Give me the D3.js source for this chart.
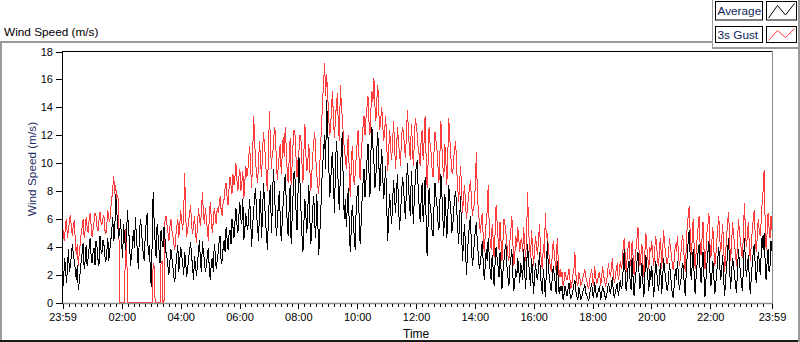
<!DOCTYPE html>
<html><head><meta charset="utf-8">
<script src="https://cdnjs.cloudflare.com/ajax/libs/d3/7.8.5/d3.min.js"></script>
<style>
body{margin:0;background:#fff;}
svg{display:block;font-family:"Liberation Sans",Arial,sans-serif;}
</style>
</head><body>
<svg id="chart" width="800" height="342"></svg>
<script>
const chartTitle = "Wind Speed (m/s)";
const yAxisTitle = "Wind Speed (m/s)";
const xAxisTitle = "Time";
const seriesNames = ["Average", "3s Gust"];
const seriesColors = ["#000000", "#ff3c3c"];
const yTicks = [0, 2, 4, 6, 8, 10, 12, 14, 16, 18];
// time axis in minutes after 00:00; the axis runs from 23:59 to its end label "23:59"
const xRange = [-1, 1446];
const xTickMinutes = [-1, 120, 240, 360, 480, 600, 720, 840, 960, 1080, 1200, 1320, 1446];
const xTickLabels = ["23:59", "02:00", "04:00", "06:00", "08:00", "10:00", "12:00", "14:00", "16:00", "18:00", "20:00", "22:00", "23:59"];

const average = [
2.0, 1.2, 3.2, 2.6, 1.4, 2.4, 3.8, 2.2, 2.6, 3.4, 4.2, 3.4, 3.0, 2.4, 1.6, 2.7, 0.9, 1.5, 2.2, 3.0,
3.6, 4.3, 2.4, 3.0, 4.1, 2.6, 3.2, 3.9, 4.6, 3.4, 2.8, 3.6, 3.9, 2.7, 4.4, 4.0, 3.1, 2.6, 4.8, 3.8, 3.5, 4.5, 4.2, 3.3, 2.9, 3.7, 4.6, 3.0, 3.8, 4.4,
5.2, 6.1, 4.4, 5.0, 7.8, 6.6, 5.6, 4.6,
5.0, 6.0, 4.2, 3.2, 5.6, 4.6, 3.8, 5.0, 6.6, 5.2, 4.4, 2.6, 3.4, 4.2, 5.2, 3.9, 6.1, 4.7, 3.6, 2.4, 4.8, 6.0, 5.5, 4.2, 3.5, 3.0, 4.9, 5.8, 6.4, 3.4, 4.1, 2.6, 1.1, 4.4, 7.9, 5.8, 4.3, 3.2, 5.6, 4.8, 3.7, 2.8, 5.2, 4.4, 4.0, 5.4, 4.6, 3.6,
3.2, 2.6, 2.0, 3.0, 3.8, 3.2, 2.6, 1.8, 1.5, 2.6, 3.4, 4.1, 2.2, 3.0, 4.0, 3.3, 2.8, 2.0, 3.6, 2.9, 1.8, 2.4, 3.1, 3.8, 4.3, 3.4, 2.5, 1.6, 3.3, 2.6, 1.9, 2.8, 3.7, 4.5, 2.9, 2.2, 4.4, 3.6, 3.0, 2.2,
2.6, 3.4, 3.9, 2.4, 1.6, 2.8, 3.2, 2.2, 4.2, 3.5, 2.4, 3.0, 3.6, 4.4, 4.8, 2.8, 3.0, 3.9, 4.5, 3.6, 5.4, 4.6, 3.8, 4.9, 5.2, 4.2, 6.0, 5.4, 4.6, 5.8, 6.8, 5.6, 5.0, 6.2, 7.2, 6.0, 5.6, 7.4, 4.5, 5.2, 6.4, 5.6,
5.2, 6.4, 7.4, 5.8, 4.0, 5.6, 6.6, 7.6, 8.2, 6.2, 5.4, 4.4, 7.0, 8.0, 4.6, 6.4, 8.6, 7.2, 6.0, 4.8, 3.8, 6.2, 7.6, 8.4, 5.0, 7.0, 9.6, 8.2, 6.4, 4.8, 5.6, 7.0, 8.0, 6.0, 4.4, 5.8, 7.2, 8.2, 9.2, 7.4, 5.8, 4.8, 6.8, 8.4, 4.2, 6.0, 7.8, 9.4, 8.8, 6.6, 5.2, 7.8, 10.4, 8.6, 6.6, 4.8,
3.6, 5.8, 7.4, 6.2, 5.0, 6.8, 8.4, 6.0, 4.2, 5.4, 6.8, 7.6, 5.6, 4.6, 7.8, 6.0, 3.4, 4.8,
6.2, 8.4, 9.8, 11.0, 12.0, 9.6, 14.5, 12.8, 10.6, 7.6, 8.2, 10.2,
10.8, 8.6, 6.4, 9.8, 11.6, 10.4, 7.8, 6.6, 9.4, 11.0, 12.2, 8.0, 6.0, 7.4,
5.4, 6.8, 8.2, 5.6, 3.6, 5.2, 7.0, 6.0, 4.8, 3.8, 6.6, 7.8, 8.4, 6.2, 4.2, 5.6, 7.4, 8.6, 9.6, 7.6,
8.8, 10.2, 11.4, 9.4, 7.6, 10.8, 12.6, 11.2, 10.2, 8.2, 9.0, 11.0, 12.2, 10.0, 8.0, 9.6, 11.0, 9.0, 7.4, 8.6, 9.8, 7.0,
4.4, 6.2, 7.8, 6.6, 5.6, 7.2, 8.8, 7.4, 6.4, 8.0, 9.2, 7.0, 5.2, 6.4, 7.6, 9.0,
8.4, 7.0, 6.0, 8.2, 10.0, 8.6, 7.2, 6.2, 9.4, 8.0, 5.6, 7.4, 8.8, 9.8, 10.2, 8.0, 6.8, 5.8,
7.4, 8.6, 5.8, 7.2, 9.0, 6.0, 3.3, 5.6, 8.2, 7.0, 6.4, 5.2, 4.8, 6.8, 8.6, 7.6, 7.0, 5.8, 5.2, 7.2, 9.2, 7.8, 6.0, 4.8, 7.8, 6.6, 4.6, 6.2, 8.4, 7.4, 6.8, 5.0, 5.4, 6.6, 7.6, 8.0,
6.8, 5.4, 4.2, 6.0, 7.6, 5.0, 3.0, 4.6, 5.6, 3.8, 2.0, 3.6, 4.8, 5.6, 6.2, 4.0, 2.6, 3.4, 4.4, 5.2, 5.8, 4.2, 3.4, 2.4,
2.8, 3.6, 4.4, 2.8, 1.6, 2.6, 3.8, 3.0, 4.6, 3.4, 2.2, 1.6, 3.4, 2.4, 1.2, 2.8, 4.0, 3.2, 2.6, 1.8, 3.6, 2.4, 1.0, 2.2, 3.0, 3.8, 4.2, 2.6, 1.8, 1.2, 2.6, 3.2, 3.8, 2.0, 0.8, 1.6, 2.4, 1.8, 3.2, 2.4, 1.4, 2.8,
2.4, 1.6, 3.8, 2.2, 1.0, 2.6, 4.2, 3.0, 2.0, 1.2, 3.2, 2.2, 0.6, 1.8, 2.8, 2.0, 1.6, 2.4, 3.6, 2.0, 1.2, 0.6, 2.4, 1.4, 0.4, 2.2, 4.4, 2.6, 1.8, 1.2, 0.8, 1.8, 2.6, 2.0, 1.4, 0.6, 3.0, 1.8, 0.6, 1.2,
0.8, 1.2, 0.2, 0.6, 1.2, 0.8, 0.5, 1.0, 1.4, 0.6, 0.3, 0.5, 0.9, 1.3, 1.6, 0.8, 0.4, 0.2, 1.1, 0.7, 0.2, 0.4, 0.8, 1.0, 1.3, 0.7, 0.5, 0.3, 0.1, 0.6, 1.0, 1.4, 0.6, 0.3, 1.5, 0.9, 0.3, 0.6, 0.9, 1.2, 0.2, 0.5, 1.2, 0.9, 0.7, 0.2, 0.4, 0.9, 1.4, 1.0, 0.6, 1.2, 1.8, 0.8, 0.3, 0.7, 1.1, 1.4, 0.5, 0.9, 1.6, 1.0,
1.2, 2.4, 3.8, 2.0, 0.8, 1.6, 2.6, 3.0, 1.6, 0.9, 3.2, 1.8, 0.5, 1.4, 2.2, 3.0, 3.6, 2.2, 1.0, 1.8, 2.8, 1.4, 0.4, 2.0, 3.4, 2.6, 1.8, 0.8, 2.4, 1.6,
2.6, 1.4, 0.4, 1.8, 3.0, 2.2, 1.4, 0.8, 2.2, 2.8, 0.6, 1.6, 3.2, 2.4, 1.8, 1.0, 0.8, 1.8, 2.8, 2.0, 1.2, 0.5, 0.3, 1.6, 2.4, 1.6, 3.0, 2.0, 0.9, 1.4, 1.8, 2.8, 2.6, 1.2, 0.5, 2.2, 3.4, 4.4, 5.2, 3.2, 1.6, 2.6, 3.8, 2.0, 0.6, 1.8, 2.8, 3.6, 4.2, 2.4,
1.4, 2.6, 3.6, 1.8, 0.4, 1.6, 2.8, 3.6, 4.4, 2.2, 1.2, 2.0, 3.0, 1.8, 0.6, 1.4, 2.2, 3.2, 4.0, 2.6, 1.6, 2.4, 3.4, 1.6, 0.5, 1.8, 2.6, 3.8, 4.6, 2.4, 1.0, 2.2, 3.2, 2.6, 2.0, 1.2, 0.7, 2.4, 3.8, 2.8,
2.2, 1.4, 0.8, 2.6, 4.6, 3.0, 1.8, 2.6, 3.4, 1.6, 0.6, 1.8, 2.8, 3.6, 4.2, 2.6, 1.4, 2.4, 3.6, 3.0, 2.0, 3.4, 4.8, 3.8, 5.0, 3.0, 1.6, 2.8, 3.8, 2.2, 2.6, 4.4, 3.7
];

const gust = [
5.6, 4.8, 4.4, 5.6, 6.0, 4.6, 5.2, 5.8, 6.3, 5.4, 4.8, 5.6, 5.9, 4.4, 3.4, 4.2, 2.6, 3.6, 4.2, 5.0,
5.4, 6.0, 4.6, 5.2, 6.1, 5.4, 5.0, 5.9, 6.4, 5.6, 4.7, 5.2, 5.8, 6.4, 6.2, 5.4, 5.1, 5.9, 6.5, 5.8, 5.6, 6.0, 6.3, 5.2, 4.9, 5.6, 6.6, 6.0, 5.8, 6.8,
7.4, 8.2, 9.1, 7.8, 8.4, 7.4, 7.7, 7.0,
0, 0, 0, 0, 0, 0, 5.3, 4.8, 0, 0, 0, 0, 0, 0, 0, 0, 0, 0, 0, 0, 0, 0, 0, 0, 0, 0, 0, 0, 0, 0, 0, 0, 0, 0, 2.8, 2.6, 0, 0, 0, 0, 0, 0, 2.8, 3.0, 0, 0, 5.8, 6.2,
5.6, 5.0, 4.4, 5.4, 6.0, 5.2, 4.8, 4.2, 3.8, 4.8, 5.4, 6.0, 4.6, 5.6, 6.6, 5.8, 5.2, 6.4, 9.3, 6.2, 4.7, 5.2, 5.8, 6.4, 7.0, 5.6, 4.9, 5.6, 6.2, 5.0, 4.3, 5.6, 6.8, 6.0, 5.5, 6.6, 7.9, 6.4, 5.6, 6.8,
6.0, 5.2, 4.4, 6.2, 7.2, 6.0, 5.0, 5.8, 6.8, 6.2, 5.6, 6.8, 6.4, 7.0, 7.6, 6.6, 6.2, 7.2, 7.4, 8.2, 8.6, 7.6, 7.0, 8.2, 9.0, 8.4, 7.8, 9.2, 8.4, 9.0, 10.0, 8.8, 8.0, 9.0, 9.6, 8.0, 8.6, 9.4, 7.4, 8.6, 9.8, 9.0,
9.4, 10.4, 11.2, 9.6, 8.2, 10.6, 13.4, 11.6, 10.0, 9.2, 8.6, 10.2, 11.6, 10.0, 9.0, 10.8, 12.2, 11.2, 10.4, 8.8, 8.0, 10.6, 13.7, 11.4, 9.6, 10.8, 11.0, 12.6, 12.2, 10.2, 8.8, 9.8, 10.6, 11.4, 9.2, 10.6, 11.9, 10.4, 12.6, 11.2, 9.4, 8.6, 10.2, 11.8, 8.4, 9.8, 11.4, 12.4, 12.0, 10.4, 9.0, 10.2, 10.9, 12.0, 11.6, 10.0,
8.6, 10.8, 12.8, 10.6, 9.4, 10.2, 11.4, 9.6, 8.0, 9.2, 10.6, 11.6, 12.2, 10.4, 9.2, 8.4, 7.8, 9.6,
11.4, 12.8, 14.6, 15.8, 17.2, 14.8, 16.4, 15.0, 13.6, 12.0, 12.4, 14.0,
15.2, 13.0, 11.8, 13.2, 14.2, 15.0, 12.4, 11.6, 15.6, 14.2, 13.2, 12.0, 11.0, 10.4,
9.6, 10.8, 12.0, 9.4, 7.6, 9.6, 11.2, 10.0, 8.4, 9.2, 10.4, 11.4, 12.4, 10.2, 8.8, 10.4, 11.6, 12.6, 13.4, 12.0,
13.2, 14.0, 14.8, 13.0, 12.0, 13.8, 15.2, 14.4, 16.1, 14.2, 13.0, 14.6, 15.6, 13.6, 12.4, 13.2, 14.0, 12.6, 11.6, 12.4, 13.4, 11.4,
9.4, 10.8, 12.4, 11.0, 10.2, 11.6, 13.0, 11.2, 9.6, 11.0, 12.6, 11.4, 10.8, 9.8, 11.8, 12.6,
12.2, 11.2, 10.4, 12.0, 13.8, 12.4, 11.0, 10.2, 12.8, 11.6, 9.8, 11.4, 13.2, 12.8, 12.0, 11.0, 10.6, 9.8,
11.8, 12.4, 10.2, 11.6, 13.4, 10.4, 8.2, 10.0, 12.6, 11.4, 10.8, 9.6, 9.0, 10.8, 12.2, 11.6, 11.0, 9.8, 8.6, 10.6, 13.0, 11.2, 9.8, 9.0, 11.4, 10.2, 8.4, 10.6, 13.2, 11.8, 10.6, 9.4, 9.2, 10.4, 11.0, 11.6,
9.6, 8.4, 7.2, 8.6, 9.8, 8.0, 6.4, 7.6, 8.4, 7.0, 6.0, 6.8, 7.6, 8.2, 8.8, 7.4, 6.2, 6.8, 7.0, 8.6, 10.8, 7.8, 6.6, 5.8,
5.0, 5.8, 6.4, 4.6, 3.6, 4.8, 5.8, 6.6, 8.4, 5.6, 4.4, 3.8, 5.6, 4.6, 3.2, 5.0, 7.0, 5.8, 4.6, 3.8, 5.8, 4.4, 3.0, 4.4, 6.0, 5.6, 5.0, 4.2, 3.4, 3.0, 4.4, 5.2, 6.2, 4.4, 2.6, 3.4, 4.8, 4.0, 5.4, 4.6, 3.6, 4.4,
4.6, 3.6, 5.4, 4.2, 3.0, 5.0, 7.9, 5.2, 4.0, 3.2, 5.2, 4.0, 2.6, 3.6, 4.8, 4.0, 3.4, 4.4, 5.6, 4.0, 2.8, 2.4, 4.2, 3.2, 6.4, 4.6, 5.0, 4.0, 3.2, 2.6, 2.2, 3.4, 4.4, 3.6, 2.8, 2.2, 4.6, 3.2, 1.8, 2.4,
1.8, 2.2, 1.2, 1.6, 2.2, 1.8, 1.6, 2.0, 2.4, 1.6, 1.0, 1.4, 2.0, 2.4, 3.6, 2.0, 1.4, 1.2, 2.2, 1.8, 1.2, 1.4, 1.8, 2.0, 2.4, 1.8, 1.6, 1.2, 1.0, 1.6, 2.0, 2.4, 1.5, 1.2, 2.6, 2.0, 1.3, 1.6, 2.0, 2.2, 1.2, 1.6, 2.6, 2.0, 1.6, 1.2, 1.4, 2.0, 2.8, 2.2, 1.8, 2.4, 3.2, 2.0, 1.4, 1.8, 2.4, 2.8, 1.6, 2.0, 3.0, 2.4,
2.8, 4.0, 4.6, 3.4, 2.2, 3.2, 4.0, 4.4, 3.0, 2.6, 4.4, 3.4, 2.0, 3.0, 3.8, 4.6, 5.4, 3.8, 2.6, 3.4, 4.2, 2.8, 1.8, 3.6, 5.0, 4.0, 3.2, 2.4, 4.0, 3.6,
4.4, 3.4, 2.6, 3.8, 4.8, 4.0, 3.0, 2.6, 4.2, 4.6, 2.4, 3.6, 5.2, 4.2, 3.6, 2.8, 2.8, 3.6, 4.6, 3.8, 3.4, 2.6, 2.3, 3.4, 4.2, 3.6, 4.8, 3.6, 2.6, 3.2, 3.8, 4.8, 4.4, 3.0, 2.2, 4.0, 5.6, 6.2, 6.9, 5.0, 3.4, 4.4, 6.0, 4.0, 2.4, 3.6, 4.6, 5.4, 6.2, 4.2,
3.4, 4.6, 5.8, 3.8, 2.4, 3.6, 5.0, 5.6, 6.4, 4.2, 3.2, 4.4, 5.4, 3.8, 2.6, 3.4, 4.4, 5.4, 6.2, 4.6, 3.6, 4.6, 5.6, 3.8, 2.2, 3.6, 4.8, 5.8, 6.5, 4.4, 3.0, 4.2, 5.8, 4.8, 4.2, 3.4, 2.6, 4.4, 6.0, 5.0,
4.4, 3.6, 3.2, 5.0, 7.1, 5.2, 4.0, 4.8, 5.8, 4.0, 3.0, 4.2, 5.2, 6.0, 6.6, 4.8, 3.6, 4.6, 6.0, 5.2, 4.8, 5.8, 7.2, 8.0, 9.5, 6.0, 3.8, 5.0, 6.4, 5.4, 4.6, 6.2, 5.2
];

const svg = d3.select("#chart");
const W = 800, H = 342;
const plot = {left: 62, right: 772, top: 51, bottom: 303};

const x = d3.scaleLinear().domain(xRange).range([plot.left + 0.5, plot.right]);
const y = d3.scaleLinear().domain([0, 18]).range([plot.bottom - 0.5, plot.top + 0.5]);

svg.append("rect").attr("width", W).attr("height", H).attr("fill", "#fff");

// outer frame
const frameGray = "#9b9b9b";
svg.append("rect").attr("x", 0).attr("y", 41).attr("width", 712).attr("height", 2).attr("fill", frameGray);
svg.append("rect").attr("x", 0).attr("y", 41).attr("width", 2).attr("height", 301).attr("fill", frameGray);
svg.append("rect").attr("x", 0).attr("y", 340).attr("width", 800).attr("height", 2).attr("fill", "#1a1a1a");
svg.append("rect").attr("x", 798).attr("y", 0).attr("width", 2).attr("height", 342).attr("fill", frameGray);
// legend panel border
svg.append("rect").attr("x", 712).attr("y", 0).attr("width", 1).attr("height", 49).attr("fill", frameGray);
svg.append("rect").attr("x", 712).attr("y", 47).attr("width", 88).attr("height", 2).attr("fill", frameGray);

// title
svg.append("text").attr("x", 4).attr("y", 35.5).attr("font-size", 11.8).attr("fill", "#000").text(chartTitle);

// plot clip
svg.append("defs").append("clipPath").attr("id", "clip")
  .append("rect").attr("x", plot.left).attr("y", plot.top).attr("width", plot.right - plot.left + 1).attr("height", plot.bottom - plot.top + 1);

const n = average.length;
const times = d3.range(n).map(i => xRange[0] + i * (xRange[1] - xRange[0]) / (n - 1));
const line = d3.line().x((d, i) => x(times[i])).y(d => y(d));

const g = svg.append("g").attr("clip-path", "url(#clip)");
g.append("path").datum(gust).attr("d", line).attr("fill", "none")
  .attr("stroke", seriesColors[1]).attr("stroke-width", 1).attr("shape-rendering", "crispEdges");
g.append("path").datum(average).attr("d", line).attr("fill", "none")
  .attr("stroke", seriesColors[0]).attr("stroke-width", 1).attr("shape-rendering", "crispEdges");

// plot frame
svg.append("line").attr("x1", plot.left).attr("x2", plot.right + 1).attr("y1", plot.top + 0.5).attr("y2", plot.top + 0.5).attr("stroke", "#000");
svg.append("line").attr("x1", plot.right + 0.5).attr("x2", plot.right + 0.5).attr("y1", plot.top).attr("y2", plot.bottom + 1).attr("stroke", "#8c8c8c");
svg.append("line").attr("x1", plot.left).attr("x2", plot.right + 1).attr("y1", plot.bottom + 0.5).attr("y2", plot.bottom + 0.5).attr("stroke", "#8c8c8c").attr("stroke-width", 1.5);
svg.append("line").attr("x1", plot.left + 0.5).attr("x2", plot.left + 0.5).attr("y1", plot.top).attr("y2", plot.bottom + 1).attr("stroke", "#000");

// y axis
const yAxis = d3.axisLeft(y).tickValues(yTicks).tickSize(6).tickPadding(3).tickFormat(d3.format("d"));
const ya = svg.append("g").attr("transform", `translate(${plot.left},0)`).call(yAxis);
ya.select(".domain").remove();
ya.selectAll("line").attr("stroke", "#000").attr("shape-rendering", "crispEdges");
ya.selectAll("text").attr("font-size", 11).attr("font-family", "Liberation Sans, Arial, sans-serif").attr("fill", "#000");

// x axis minor ticks every 12 minutes
const minorTicks = d3.range(0, 1440, 12);
const xMinor = d3.axisBottom(x).tickValues(minorTicks).tickSize(3).tickFormat("");
const xm = svg.append("g").attr("transform", `translate(0,${plot.bottom + 1})`).call(xMinor);
xm.select(".domain").remove();
xm.selectAll("line").attr("stroke", "#000").attr("shape-rendering", "crispEdges");

const xAxis = d3.axisBottom(x).tickValues(xTickMinutes).tickSize(5).tickPadding(4)
  .tickFormat((d, i) => xTickLabels[i]);
const xa = svg.append("g").attr("transform", `translate(0,${plot.bottom + 1})`).call(xAxis);
xa.select(".domain").remove();
xa.selectAll("line").attr("stroke", "#000").attr("shape-rendering", "crispEdges");
xa.selectAll("text").attr("font-size", 11).attr("font-family", "Liberation Sans, Arial, sans-serif").attr("fill", "#000");

// axis titles
svg.append("text").attr("transform", "translate(35.5,169) rotate(-90)").attr("text-anchor", "middle")
  .attr("font-size", 11.8).attr("fill", "#1e2b63").text(yAxisTitle);
svg.append("text").attr("x", 403).attr("y", 338).attr("font-size", 12).attr("fill", "#000").text(xAxisTitle);

// legend
const legendItems = [
  {name: seriesNames[0], color: seriesColors[0], y: 1.5, h: 18.5},
  {name: seriesNames[1], color: seriesColors[1], y: 26.5, h: 16}
];
const lg = svg.append("g");
legendItems.forEach(it => {
  lg.append("rect").attr("x", 715.5).attr("y", it.y).attr("width", 47).attr("height", it.h)
    .attr("fill", "#fff").attr("stroke", "#000");
  lg.append("text").attr("x", 717.5).attr("y", it.y + it.h / 2 + 4.3).attr("font-size", 11.8)
    .attr("fill", "#0f1f5a").text(it.name);
  lg.append("rect").attr("x", 766.5).attr("y", it.y).attr("width", 30).attr("height", it.h)
    .attr("fill", "#fff").attr("stroke", "#000");
  const pts = [[2, it.h - 2], [11, 4], [19, it.h - 5], [28, 2]].map(p => [766.5 + p[0], it.y + p[1]]);
  lg.append("path").attr("d", d3.line()(pts)).attr("fill", "none").attr("stroke", it.color).attr("stroke-width", 1);
});
</script>
</body></html>
